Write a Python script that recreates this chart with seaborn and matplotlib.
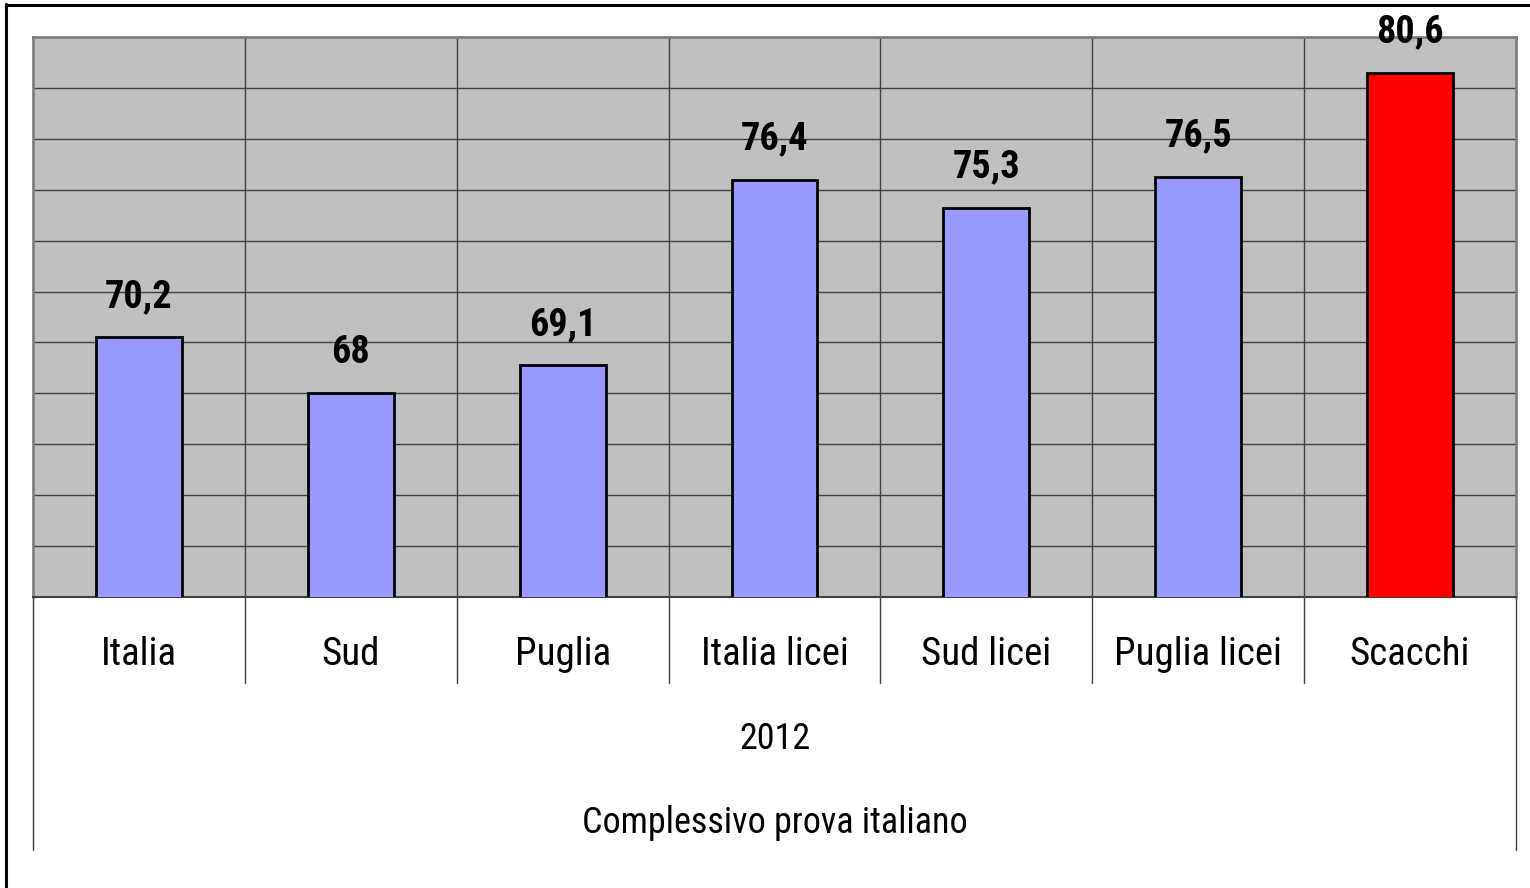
import matplotlib
matplotlib.use("Agg")
import matplotlib.pyplot as plt
from matplotlib.lines import Line2D
import matplotlib.transforms as mtransforms
import seaborn as sns
import numpy as np

categories = ["Italia", "Sud", "Puglia", "Italia licei", "Sud licei", "Puglia licei", "Scacchi"]
values = [70.2, 68, 69.1, 76.4, 75.3, 76.5, 80.6]
value_labels = ["70,2", "68", "69,1", "76,4", "75,3", "76,5", "80,6"]
bar_colors = ["#9999ff"] * 6 + ["#ff0000"]
group_label = "2012"
series_label = "Complessivo prova italiano"

sns.set_theme(style="white")
plt.rcParams["font.family"] = ["Roboto Condensed", "DejaVu Sans"]

W, H = 1530, 888
fig = plt.figure(figsize=(W / 100, H / 100), dpi=100)
ax = fig.add_axes([33 / W, 1 - 597 / H, (1516 - 33) / W, (597 - 37) / H])
ax.set_facecolor("#c0c0c0")

sns.barplot(x=categories, y=values, hue=categories, palette=bar_colors,
            saturation=1, width=0.405, edgecolor="black", linewidth=2,
            legend=False, ax=ax, zorder=3)

ax.set_ylim(60, 82)
ax.set_xlim(-0.5, len(categories) - 0.5)
ax.set_yticks(np.arange(60, 83, 2))
ax.set_yticklabels([])
ax.set_xticks(np.arange(0.5, len(categories) - 0.5, 1), minor=True)
ax.grid(True, axis="y", which="major", color="#404040", linewidth=1.0, zorder=1)
ax.grid(True, axis="x", which="minor", color="#404040", linewidth=1.0, zorder=1)
ax.grid(False, axis="x", which="major")
ax.set_axisbelow(True)
ax.tick_params(axis="both", which="both", length=0)
ax.set_xticks(range(len(categories)))
ax.set_xticklabels(categories, fontsize=28, color="black")
ax.tick_params(axis="x", pad=28)
ax.set_xlabel("")
ax.set_ylabel("")
for s in ax.spines.values():
    s.set_color("#808080")
    s.set_linewidth(2)
ax.spines["bottom"].set_color("#404040")
ax.spines["bottom"].set_linewidth(1.5)

# value labels
for i, (v, lab) in enumerate(zip(values, value_labels)):
    ax.annotate(lab, (i, v), xytext=(0, 21.8), textcoords="offset points",
                ha="center", va="baseline", fontsize=27.5, fontweight="bold",
                color="black", annotation_clip=False)

# table-like lines below the axis
trans = mtransforms.blended_transform_factory(ax.transData, ax.transAxes)
ah = 597 - 37
for xb in np.arange(0.5, len(categories) - 0.5, 1):
    ax.add_line(Line2D([xb, xb], [0, -(683 - 597) / ah], transform=trans,
                       color="#404040", linewidth=1.0, clip_on=False))
for xb in [-0.5, len(categories) - 0.5]:
    ax.add_line(Line2D([xb, xb], [0, -(850 - 597) / ah], transform=trans,
                       color="#404040", linewidth=1.0, clip_on=False))

ax.text(0.5, -(739 - 597) / ah, group_label, transform=ax.transAxes,
        ha="center", va="center", fontsize=26, color="black")
ax.text(0.5, -(823 - 597) / ah, series_label, transform=ax.transAxes,
        ha="center", va="center", fontsize=26, color="black")

# outer chart border (top and left visible)
fig.add_artist(Line2D([5.5 / W, 1.0], [1 - 5.5 / H, 1 - 5.5 / H], transform=fig.transFigure,
                      color="black", linewidth=2.2))
fig.add_artist(Line2D([6.5 / W, 6.5 / W], [1 - 4.5 / H, 0.0], transform=fig.transFigure,
                      color="black", linewidth=2.2))

fig.savefig("out.png", dpi=100, facecolor="white")
